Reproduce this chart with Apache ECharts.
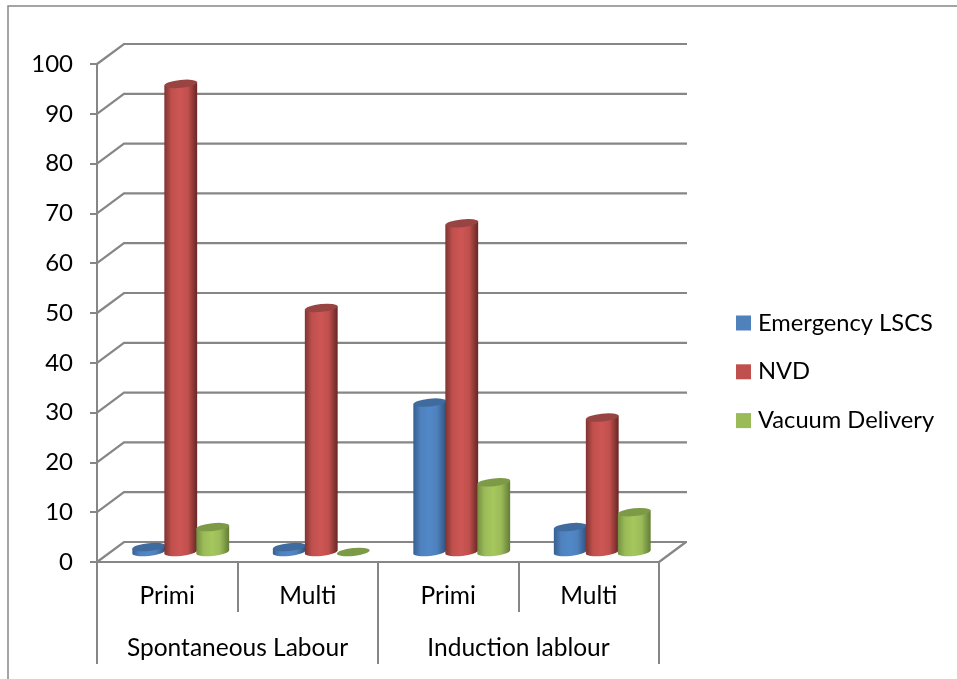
<!DOCTYPE html>
<html>
<head>
<meta charset="utf-8">
<style>html,body{margin:0;padding:0;background:#fff}#chart{width:957px;height:679px}</style>
<script src="https://cdn.jsdelivr.net/npm/echarts@6/dist/echarts.min.js"></script>
</head>
<body>
<div id="chart"></div>
<script>
// Mode of delivery by parity and type of labour
const parityLabels = ['Primi', 'Multi', 'Primi', 'Multi'];
const labourLabels = ['Spontaneous Labour', 'Induction lablour'];
const emergencyLscs = [1, 1, 30, 5];
const nvd = [94, 49, 66, 27];
const vacuumDelivery = [5, 0, 14, 8];
const axisTicks = [0, 10, 20, 30, 40, 50, 60, 70, 80, 90, 100];

const FONT = 'Lato, "Open Sans", sans-serif';
const LINE = '#868686';

// Oblique projection of the chart box: how far the back wall sits from the front plane
const DEPTH_X = 27;
const DEPTH_Y = -20;
const BAR_STEP = 32;
const RX = 16.5, RY = 3.9, TILT = 6;
const TILT_RAD = TILT * Math.PI / 180;

const palettes = {
  blue:  { main: '#4f81bd', top: '#3f6b9f', edgeL: '#355f90', mid: '#5188c8', edgeR: '#2f5280' },
  red:   { main: '#c0504d', top: '#984442', edgeL: '#7e3331', mid: '#cd5654', edgeR: '#662624' },
  green: { main: '#9bbb59', top: '#7d9a47', edgeL: '#738f40', mid: '#a5c75c', edgeR: '#637c34' }
};

// Upright cylinder standing at half depth in the chart box
function cylinderRenderer(offset, pal) {
  return function (params, api) {
    const idx = api.value(0);
    const base = api.coord([idx, 0]);
    const top = api.coord([idx, api.value(1)]);
    const cx = base[0] + DEPTH_X / 2 + offset * BAR_STEP;
    const yBase = base[1] + DEPTH_Y / 2;
    const yTop = top[1] + DEPTH_Y / 2;
    const dx = RX * Math.cos(TILT_RAD), dy = RX * Math.sin(TILT_RAD);
    const arc = `A ${RX} ${RY} ${-TILT} 0`;
    const children = [];
    if (yBase - yTop > 0.5) {
      children.push({
        type: 'path',
        shape: {
          pathData: `M ${cx - dx} ${yTop + dy} L ${cx - dx} ${yBase + dy} ${arc} 0 ${cx + dx} ${yBase - dy} L ${cx + dx} ${yTop - dy} Z`
        },
        style: {
          fill: {
            type: 'linear', x: 0, y: 0, x2: 1, y2: 0,
            colorStops: [
              { offset: 0, color: pal.edgeL },
              { offset: 0.22, color: pal.main },
              { offset: 0.48, color: pal.mid },
              { offset: 0.72, color: pal.main },
              { offset: 1, color: pal.edgeR }
            ]
          }
        }
      });
    }
    children.push({
      type: 'path',
      shape: {
        pathData: `M ${cx - dx} ${yTop + dy} ${arc} 1 ${cx + dx} ${yTop - dy} ${arc} 1 ${cx - dx} ${yTop + dy} Z`
      },
      style: { fill: pal.top }
    });
    return { type: 'group', children };
  };
}

// Side-wall slant plus back-wall rule for each value tick
function wallRenderer(params, api) {
  const sys = params.coordSys;
  const y = api.coord([0, api.value(0)])[1];
  const points = [
    [sys.x, y],
    [sys.x + DEPTH_X, y + DEPTH_Y],
    [sys.x + sys.width + DEPTH_X + 1, y + DEPTH_Y]
  ];
  const children = [{
    type: 'polyline',
    shape: { points },
    style: { stroke: LINE, lineWidth: 2.2, fill: null }
  }];
  if (api.value(0) === 0) {
    children.push({
      type: 'line',
      shape: { x1: sys.x + sys.width, y1: y, x2: sys.x + sys.width + DEPTH_X, y2: y + DEPTH_Y },
      style: { stroke: LINE, lineWidth: 2.2 }
    });
  }
  return { type: 'group', children };
}

function cylinderSeries(name, values, offset, pal) {
  return {
    name,
    type: 'custom',
    coordinateSystem: 'cartesian2d',
    xAxisIndex: 0,
    yAxisIndex: 0,
    itemStyle: { color: pal.main },
    encode: { x: 0, y: 1 },
    data: values.map((v, i) => [i, v]),
    renderItem: cylinderRenderer(offset, pal),
    clip: false,
    z: 5
  };
}

const chart = echarts.init(document.getElementById('chart'), null, { renderer: 'canvas' });
chart.setOption({
  animation: false,
  backgroundColor: '#fff',
  graphic: [{
    // Chart-area frame; only its top and left edges fall inside the page
    type: 'rect',
    shape: { x: 8, y: 6, width: 2000, height: 2000 },
    style: { fill: null, stroke: '#868686', lineWidth: 1.5 },
    silent: true
  }],
  legend: {
    orient: 'vertical',
    left: 731,
    top: 306,
    data: ['Emergency LSCS', 'NVD', 'Vacuum Delivery'],
    icon: 'rect',
    itemWidth: 15,
    itemHeight: 15,
    itemGap: 24.8,
    textStyle: { fontFamily: FONT, fontSize: 23.7, color: '#000', padding: [0, 0, 0, 2] }
  },
  grid: { left: 97, top: 64, width: 562, height: 498, containLabel: false },
  xAxis: [{
    type: 'category',
    position: 'bottom',
    data: parityLabels,
    axisLine: { onZero: false, lineStyle: { color: LINE, width: 2.2 } },
    axisTick: { show: true, length: 50, lineStyle: { color: LINE, width: 2 } },
    axisLabel: { interval: 0, fontFamily: FONT, fontSize: 24.5, color: '#000', margin: 22 },
    splitLine: { show: false }
  }, {
    type: 'category',
    position: 'bottom',
    data: labourLabels,
    axisLine: { onZero: false, show: false },
    axisTick: { show: true, length: 102, lineStyle: { color: LINE, width: 2 } },
    axisLabel: { interval: 0, fontFamily: FONT, fontSize: 24.5, color: '#000', margin: 74 },
    splitLine: { show: false }
  }],
  yAxis: {
    type: 'value',
    min: 0,
    max: 100,
    interval: 10,
    axisLine: { show: true, lineStyle: { color: LINE, width: 2 } },
    axisTick: { show: true, length: 7, lineStyle: { color: LINE, width: 2 } },
    axisLabel: { fontFamily: FONT, fontSize: 24, color: '#000', margin: 24, padding: [11, 0, 0, 0] },
    splitLine: { show: false }
  },
  series: [
    {
      name: 'walls',
      type: 'custom',
      coordinateSystem: 'cartesian2d',
      xAxisIndex: 0,
      yAxisIndex: 0,
      encode: { y: 0 },
      data: axisTicks.map(v => [v]),
      renderItem: wallRenderer,
      clip: false,
      silent: true,
      z: 1
    },
    cylinderSeries('Emergency LSCS', emergencyLscs, -1, palettes.blue),
    cylinderSeries('NVD', nvd, 0, palettes.red),
    cylinderSeries('Vacuum Delivery', vacuumDelivery, 1, palettes.green)
  ]
});
</script>
</body>
</html>
